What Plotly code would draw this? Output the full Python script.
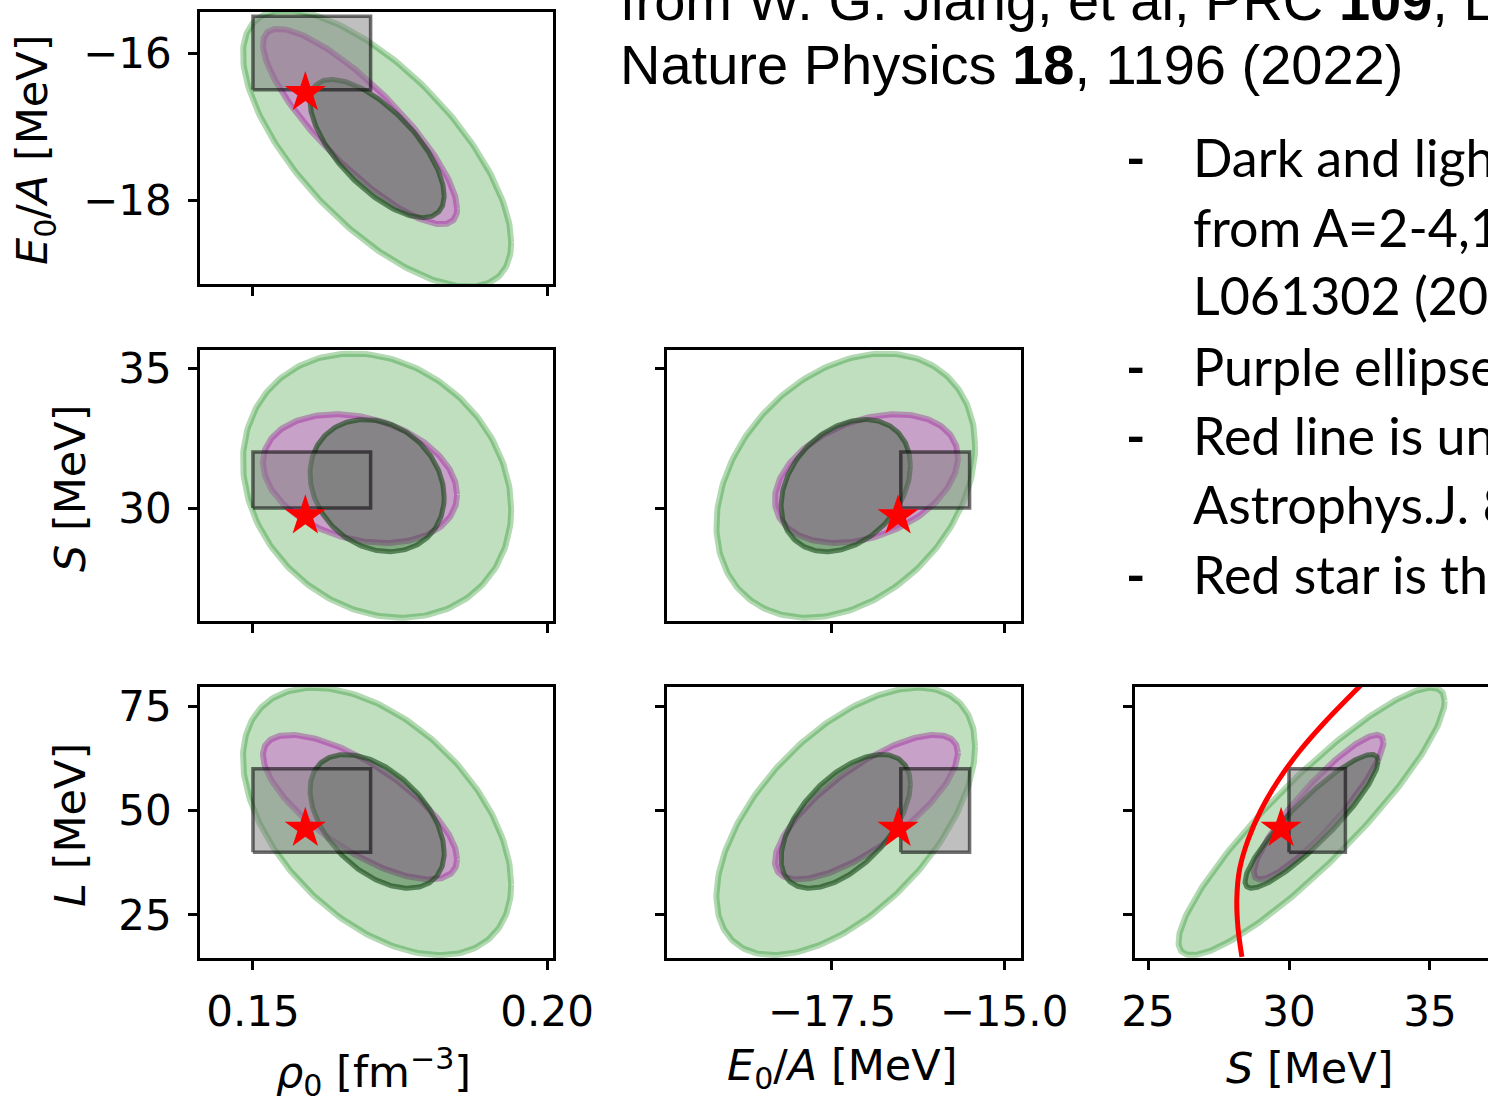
import numpy as np
import plotly.graph_objects as go

W, H = 1488, 1100

# Parameter order: rho0 [fm^-3], E0/A [MeV], S [MeV], L [MeV]
GREEN_MEAN = [0.1711, -17.30, 30.80, 47.4]
GREEN_STD = [0.0114, 0.94, 2.36, 16.0]
GREEN_CORR = [
    [1.00, -0.68, -0.18, -0.47],
    [-0.68, 1.00, 0.30, 0.56],
    [-0.18, 0.30, 1.00, 0.90],
    [-0.47, 0.56, 0.90, 1.00],
]

PURPLE_MEAN = [0.1682, -17.00, 31.05, 50.8]
PURPLE_STD = [0.0165, 1.33, 2.30, 17.3]
PURPLE_CORR = [
    [1.00, -0.84, -0.25, -0.72],
    [-0.84, 1.00, 0.33, 0.75],
    [-0.25, 0.33, 1.00, 0.90],
    [-0.72, 0.75, 0.90, 1.00],
]

# Empirical saturation window
BOX_LO = [0.15, -16.5, 30.0, 40.0]
BOX_HI = [0.17, -15.5, 32.0, 60.0]

# Reference point
STAR = [0.1589, -16.54, 29.72, 45.7]

# Unitary-gas bound in the S-L plane
UG_L = [15, 22, 29, 36, 43, 50, 57, 64, 71, 80]
UG_S = [28.33, 28.19, 28.15, 28.25, 28.55, 29.0, 29.6, 30.35, 31.25, 32.55]

X_RANGE = {0: [0.141, 0.201], 1: [-19.898, -14.753], 2: [24.539, 37.057]}
Y_RANGE = {1: [-19.143, -15.442], 2: [25.964, 35.643], 3: [14.71, 79.55]}
X_TICKS = {0: [0.15, 0.20], 1: [-17.5, -15.0], 2: [25, 30, 35]}
X_TICKTEXT = {0: ["0.15", "0.20"], 1: ["\u221217.5", "\u221215.0"], 2: ["25", "30", "35"]}
Y_TICKS = {1: [-16, -18], 2: [30, 35], 3: [25, 50, 75]}
Y_TICKTEXT = {1: ["\u221216", "\u221218"], 2: ["30", "35"], 3: ["25", "50", "75"]}

# (x-parameter, y-parameter, left, right, top, bottom) in pixels
PANELS = [
    (0, 1, 200, 553, 12, 284),
    (0, 2, 200, 553, 350, 621),
    (1, 2, 667, 1021, 350, 621),
    (0, 3, 200, 553, 687, 958),
    (1, 3, 667, 1021, 687, 958),
    (2, 3, 1135, 1488, 687, 958),
]

TICK_FONT = dict(family="DejaVu Sans", size=42, color="black")


def ellipse(mean, std, corr, i, j, k, n=240):
    t = np.linspace(0, 2 * np.pi, n)
    r = corr[i][j]
    x = mean[i] + k * std[i] * np.cos(t)
    y = mean[j] + k * std[j] * (r * np.cos(t) + np.sqrt(1 - r * r) * np.sin(t))
    return x, y


fig = go.Figure()
layout = dict(
    width=W, height=H,
    margin=dict(l=0, r=0, t=0, b=0, pad=0, autoexpand=False),
    paper_bgcolor="white", plot_bgcolor="white", showlegend=False,
)

for n, (ix, iy, l, r, t, b) in enumerate(PANELS, start=1):
    xa, ya = f"x{n}", f"y{n}"

    def add(x, y, **kw):
        fig.add_trace(go.Scatter(x=x, y=y, xaxis=xa, yaxis=ya, hoverinfo="skip",
                                 showlegend=False, **kw))

    ex, ey = ellipse(GREEN_MEAN, GREEN_STD, GREEN_CORR, ix, iy, 2.0)
    add(ex, ey, mode="lines", fill="toself", fillcolor="rgba(0,128,0,0.25)",
        line=dict(color="rgba(0,128,0,0.3)", width=6))
    ex, ey = ellipse(PURPLE_MEAN, PURPLE_STD, PURPLE_CORR, ix, iy, 1.0)
    add(ex, ey, mode="lines", fill="toself", fillcolor="rgba(220,0,220,0.28)",
        line=dict(color="rgba(150,0,150,0.35)", width=6))
    ex, ey = ellipse(GREEN_MEAN, GREEN_STD, GREEN_CORR, ix, iy, 1.0)
    add(ex, ey, mode="lines", fill="toself", fillcolor="rgba(40,90,40,0.4)",
        line=dict(color="rgba(20,70,20,0.6)", width=5))

    bx = [BOX_LO[ix], BOX_HI[ix], BOX_HI[ix], BOX_LO[ix], BOX_LO[ix]]
    by = [BOX_LO[iy], BOX_LO[iy], BOX_HI[iy], BOX_HI[iy], BOX_LO[iy]]
    add(bx, by, mode="lines", fill="toself", fillcolor="rgba(128,128,128,0.5)",
        line=dict(color="rgba(0,0,0,0.55)", width=3.5))

    if (ix, iy) == (2, 3):
        add(UG_S, UG_L, mode="lines", line=dict(color="red", width=5, shape="spline"))

    add([STAR[ix]], [STAR[iy]], mode="markers",
        marker=dict(symbol="star", size=31, color="red", line=dict(width=0)))

    axis_common = dict(
        ticks="outside", ticklen=9, tickwidth=2.5, tickcolor="black",
        showline=True, linewidth=2.8, linecolor="black", automargin=False,
        showgrid=False, zeroline=False, tickfont=TICK_FONT, fixedrange=True,
    )
    layout[f"xaxis{n}"] = dict(
        domain=[l / W, r / W], range=X_RANGE[ix], anchor=ya,
        tickvals=X_TICKS[ix], ticktext=X_TICKTEXT[ix],
        showticklabels=(iy == 3), mirror=True, ticklabelstandoff=6, **axis_common,
    )
    layout[f"yaxis{n}"] = dict(
        domain=[1 - b / H, 1 - t / H], range=Y_RANGE[iy], anchor=xa,
        tickvals=Y_TICKS[iy], ticktext=Y_TICKTEXT[iy],
        showticklabels=(ix == 0), mirror=(n != 6), ticklabelstandoff=8, **axis_common,
    )

fig.update_layout(**layout)

LABEL_FONT = dict(family="DejaVu Sans", size=43, color="black")
AXIS_TITLES = [
    ("<i>E</i><sub>0</sub>/<i>A</i> [MeV]", 35, 150, -90),
    ("<i>S</i> [MeV]", 70, 488, -90),
    ("<i>L</i> [MeV]", 70, 825, -90),
    ("<i>\u03c1</i><sub>0</sub> [fm<sup>\u22123</sup>]", 373, 1072, 0),
    ("<i>E</i><sub>0</sub>/<i>A</i> [MeV]", 842, 1068, 0),
    ("<i>S</i> [MeV]", 1310, 1068, 0),
]
for text, px, py, ang in AXIS_TITLES:
    fig.add_annotation(text=text, x=px / W, y=1 - py / H, xref="paper", yref="paper",
                       xanchor="center", yanchor="middle", textangle=ang,
                       showarrow=False, font=LABEL_FONT)

# Reference lines at the top
REF_FONT = dict(family="Liberation Sans, Arial, sans-serif", size=56, color="black")
REF_LINES = [
    ("from W. G. Jiang, et al, PRC <b>109</b>, L061302 (2024);", 1),
    ("Nature Physics <b>18</b>, 1196 (2022)", 64),
]
for text, py in REF_LINES:
    fig.add_annotation(text=text, x=618 / W, y=1 - py / H, xref="paper", yref="paper",
                       xanchor="left", yanchor="middle", showarrow=False, font=REF_FONT)

# Bullet notes on the right
NOTE_FONT = dict(family="Lato, Carlito, Calibri, sans-serif", size=52, color="black")
NOTES = [
    ("-", "Dark and light green ellipses", 157),
    ("", "from A=2-4,16 nuclei, PRC 109,", 227),
    ("", "L061302 (2024)", 295),
    ("-", "Purple ellipse: Hu et al", 366),
    ("-", "Red line is unitary gas bound,", 435),
    ("", "Astrophys.J. 848, 105 (2017)", 504),
    ("-", "Red star is the", 574),
]
for dash, text, py in NOTES:
    if dash:
        fig.add_annotation(text="<b>-</b>", x=1124 / W, y=1 - py / H, xref="paper", yref="paper",
                           xanchor="left", yanchor="middle", showarrow=False, font=NOTE_FONT)
    fig.add_annotation(text=text, x=1191 / W, y=1 - py / H, xref="paper", yref="paper",
                       xanchor="left", yanchor="middle", showarrow=False, font=NOTE_FONT)

fig.write_html("out.html", config={"displayModeBar": False},
               post_script="document.body.style.margin='0';")
